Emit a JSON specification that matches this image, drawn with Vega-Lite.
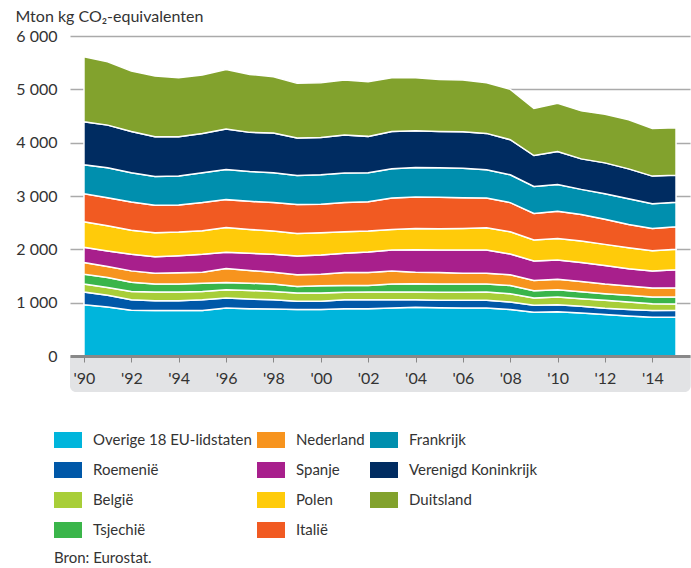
{
  "$schema": "https://vega.github.io/schema/vega-lite/v6.json",
  "width": 620,
  "height": 320,
  "autosize": {"type": "none"},
  "padding": {"left": 70, "top": 36, "right": 1, "bottom": 212},
  "background": "white",
  "config": {
    "font": "Lato",
    "view": {"stroke": null}
  },
  "datasets": {
    "landen": [
      {"land": "Overige 18 EU-lidstaten", "k": 1},
      {"land": "Roemenië", "k": 2},
      {"land": "België", "k": 3},
      {"land": "Tsjechië", "k": 4},
      {"land": "Nederland", "k": 5},
      {"land": "Spanje", "k": 6},
      {"land": "Polen", "k": 7},
      {"land": "Italië", "k": 8},
      {"land": "Frankrijk", "k": 9},
      {"land": "Verenigd Koninkrijk", "k": 10},
      {"land": "Duitsland", "k": 11}
    ],
    "emissies": [
      {"jaar": 1990, "Overige 18 EU-lidstaten": 963, "Roemenië": 236, "België": 149, "Tsjechië": 186, "Nederland": 218, "Spanje": 285, "Polen": 479, "Italië": 527, "Frankrijk": 541, "Verenigd Koninkrijk": 807, "Duitsland": 1218},
      {"jaar": 1991, "Overige 18 EU-lidstaten": 919, "Roemenië": 218, "België": 149, "Tsjechië": 186, "Nederland": 205, "Spanje": 292, "Polen": 472, "Italië": 528, "Frankrijk": 559, "Verenigd Koninkrijk": 801, "Duitsland": 1187},
      {"jaar": 1992, "Overige 18 EU-lidstaten": 857, "Roemenië": 199, "België": 155, "Tsjechië": 174, "Nederland": 211, "Spanje": 311, "Polen": 453, "Italië": 528, "Frankrijk": 547, "Verenigd Koninkrijk": 776, "Duitsland": 1131},
      {"jaar": 1993, "Overige 18 EU-lidstaten": 851, "Roemenië": 186, "België": 162, "Tsjechië": 149, "Nederland": 205, "Spanje": 310, "Polen": 448, "Italië": 515, "Frankrijk": 540, "Verenigd Koninkrijk": 746, "Duitsland": 1136},
      {"jaar": 1994, "Overige 18 EU-lidstaten": 851, "Roemenië": 186, "België": 162, "Tsjechië": 149, "Nederland": 211, "Spanje": 323, "Polen": 441, "Italië": 509, "Frankrijk": 541, "Verenigd Koninkrijk": 739, "Duitsland": 1105},
      {"jaar": 1995, "Overige 18 EU-lidstaten": 851, "Roemenië": 205, "België": 155, "Tsjechië": 155, "Nederland": 205, "Spanje": 336, "Polen": 441, "Italië": 528, "Frankrijk": 559, "Verenigd Koninkrijk": 739, "Duitsland": 1093},
      {"jaar": 1996, "Overige 18 EU-lidstaten": 901, "Roemenië": 186, "België": 155, "Tsjechië": 137, "Nederland": 261, "Spanje": 304, "Polen": 466, "Italië": 522, "Frankrijk": 565, "Verenigd Koninkrijk": 758, "Duitsland": 1118},
      {"jaar": 1997, "Overige 18 EU-lidstaten": 888, "Roemenië": 180, "België": 162, "Tsjechië": 136, "Nederland": 236, "Spanje": 323, "Polen": 448, "Italië": 528, "Frankrijk": 559, "Verenigd Koninkrijk": 733, "Duitsland": 1087},
      {"jaar": 1998, "Overige 18 EU-lidstaten": 882, "Roemenië": 174, "België": 155, "Tsjechië": 137, "Nederland": 223, "Spanje": 336, "Polen": 435, "Italië": 534, "Frankrijk": 559, "Verenigd Koninkrijk": 745, "Duitsland": 1056},
      {"jaar": 1999, "Overige 18 EU-lidstaten": 870, "Roemenië": 155, "België": 155, "Tsjechië": 124, "Nederland": 218, "Spanje": 354, "Polen": 422, "Italië": 541, "Frankrijk": 546, "Verenigd Koninkrijk": 702, "Duitsland": 1025},
      {"jaar": 2000, "Overige 18 EU-lidstaten": 870, "Roemenië": 155, "België": 155, "Tsjechië": 137, "Nederland": 217, "Spanje": 360, "Polen": 417, "Italië": 534, "Frankrijk": 553, "Verenigd Koninkrijk": 701, "Duitsland": 1025},
      {"jaar": 2001, "Overige 18 EU-lidstaten": 888, "Roemenië": 168, "België": 137, "Tsjechië": 130, "Nederland": 242, "Spanje": 360, "Polen": 404, "Italië": 547, "Frankrijk": 553, "Verenigd Koninkrijk": 714, "Duitsland": 1031},
      {"jaar": 2002, "Overige 18 EU-lidstaten": 888, "Roemenië": 168, "België": 143, "Tsjechië": 124, "Nederland": 242, "Spanje": 385, "Polen": 392, "Italië": 552, "Frankrijk": 541, "Verenigd Koninkrijk": 683, "Duitsland": 1025},
      {"jaar": 2003, "Overige 18 EU-lidstaten": 901, "Roemenië": 155, "België": 143, "Tsjechië": 150, "Nederland": 247, "Spanje": 392, "Polen": 385, "Italië": 590, "Frankrijk": 546, "Verenigd Koninkrijk": 702, "Duitsland": 1006},
      {"jaar": 2004, "Overige 18 EU-lidstaten": 913, "Roemenië": 143, "België": 143, "Tsjechië": 155, "Nederland": 217, "Spanje": 423, "Polen": 397, "Italië": 590, "Frankrijk": 553, "Verenigd Koninkrijk": 690, "Duitsland": 993},
      {"jaar": 2005, "Overige 18 EU-lidstaten": 907, "Roemenië": 136, "België": 150, "Tsjechië": 155, "Nederland": 217, "Spanje": 423, "Polen": 397, "Italië": 590, "Frankrijk": 553, "Verenigd Koninkrijk": 683, "Duitsland": 975},
      {"jaar": 2006, "Overige 18 EU-lidstaten": 901, "Roemenië": 142, "België": 150, "Tsjechië": 155, "Nederland": 205, "Spanje": 435, "Polen": 403, "Italië": 578, "Frankrijk": 553, "Verenigd Koninkrijk": 683, "Duitsland": 969},
      {"jaar": 2007, "Overige 18 EU-lidstaten": 901, "Roemenië": 142, "België": 156, "Tsjechië": 149, "Nederland": 205, "Spanje": 435, "Polen": 416, "Italië": 559, "Frankrijk": 528, "Verenigd Koninkrijk": 683, "Duitsland": 950},
      {"jaar": 2008, "Overige 18 EU-lidstaten": 870, "Roemenië": 142, "België": 156, "Tsjechië": 155, "Nederland": 199, "Spanje": 391, "Polen": 416, "Italië": 547, "Frankrijk": 522, "Verenigd Koninkrijk": 658, "Duitsland": 944},
      {"jaar": 2009, "Overige 18 EU-lidstaten": 820, "Roemenië": 130, "België": 137, "Tsjechië": 137, "Nederland": 192, "Spanje": 367, "Polen": 391, "Italië": 497, "Frankrijk": 509, "Verenigd Koninkrijk": 578, "Duitsland": 882},
      {"jaar": 2010, "Overige 18 EU-lidstaten": 832, "Roemenië": 131, "België": 143, "Tsjechië": 136, "Nederland": 199, "Spanje": 360, "Polen": 404, "Italië": 509, "Frankrijk": 503, "Verenigd Koninkrijk": 615, "Duitsland": 907},
      {"jaar": 2011, "Overige 18 EU-lidstaten": 807, "Roemenië": 125, "België": 143, "Tsjechië": 130, "Nederland": 193, "Spanje": 354, "Polen": 403, "Italië": 497, "Frankrijk": 472, "Verenigd Koninkrijk": 572, "Duitsland": 900},
      {"jaar": 2012, "Overige 18 EU-lidstaten": 776, "Roemenië": 118, "België": 149, "Tsjechië": 125, "Nederland": 180, "Spanje": 348, "Polen": 397, "Italië": 472, "Frankrijk": 478, "Verenigd Koninkrijk": 578, "Duitsland": 913},
      {"jaar": 2013, "Overige 18 EU-lidstaten": 752, "Roemenië": 118, "België": 142, "Tsjechië": 125, "Nederland": 174, "Spanje": 323, "Polen": 397, "Italië": 435, "Frankrijk": 484, "Verenigd Koninkrijk": 559, "Duitsland": 920},
      {"jaar": 2014, "Overige 18 EU-lidstaten": 727, "Roemenië": 124, "België": 130, "Tsjechië": 125, "Nederland": 167, "Spanje": 323, "Polen": 379, "Italië": 416, "Frankrijk": 466, "Verenigd Koninkrijk": 516, "Duitsland": 894},
      {"jaar": 2015, "Overige 18 EU-lidstaten": 727, "Roemenië": 130, "België": 118, "Tsjechië": 131, "Nederland": 174, "Spanje": 335, "Polen": 385, "Italië": 422, "Frankrijk": 460, "Verenigd Koninkrijk": 509, "Duitsland": 889}
    ]
  },
  "layer": [
    {
      "data": {"values": [{}]},
      "mark": {"type": "rect", "color": "#e2e3e5", "cornerRadiusBottomLeft": 6, "cornerRadiusBottomRight": 6},
      "encoding": {
        "x": {"datum": 1989.41, "type": "quantitative"},
        "x2": {"datum": 2015.62},
        "y": {"datum": 0, "type": "quantitative"},
        "y2": {"datum": -675}
      }
    },
    {
      "data": {"name": "emissies"},
      "transform": [
        {"fold": ["Overige 18 EU-lidstaten", "Roemenië", "België", "Tsjechië", "Nederland", "Spanje", "Polen", "Italië", "Frankrijk", "Verenigd Koninkrijk", "Duitsland"], "as": ["land", "waarde"]},
        {"lookup": "land", "from": {"data": {"name": "landen"}, "key": "land", "fields": ["k"]}}
      ],
      "mark": {"type": "area", "stroke": "white", "strokeWidth": 1.5, "interpolate": "linear"},
      "encoding": {
        "x": {
          "field": "jaar", "type": "quantitative",
          "scale": {"domain": [1989.41, 2015.59], "nice": false, "zero": false},
          "axis": {
            "values": [1990,1991,1992,1993,1994,1995,1996,1997,1998,1999,2000,2001,2002,2003,2004,2005,2006,2007,2008,2009,2010,2011,2012,2013,2014,2015],
            "labelExpr": "datum.value % 2 == 0 ? \"'\" + substring(toString(datum.value), 2) : ''",
            "title": null,
            "grid": false,
            "domainColor": "#888888",
            "domainWidth": 3,
            "tickColor": "#888888",
            "tickSize": 6,
            "tickWidth": 1,
            "labelPadding": 8,
            "labelFontSize": 16,
            "labelColor": "#333333",
            "labelFlush": false,
            "labelOverlap": false,
            "zindex": 1
          }
        },
        "y": {
          "field": "waarde", "type": "quantitative", "stack": "zero",
          "scale": {"domain": [0, 6000], "nice": false},
          "axis": {
            "values": [0, 1000, 2000, 3000, 4000, 5000, 6000],
            "labelExpr": "replace(format(datum.value, ','), ',', ' ')",
            "grid": true,
            "gridColor": "#aaaaaa",
            "gridWidth": 1.3,
            "domain": false,
            "ticks": false,
            "labelPadding": 13,
            "labelFontSize": 16,
            "labelColor": "#333333",
            "title": "Mton kg CO₂-equivalenten",
            "titleAngle": 0,
            "titleAlign": "left",
            "titleBaseline": "middle",
            "titleX": -55,
            "titleY": -20,
            "titleFontSize": 16,
            "titleFontWeight": "normal",
            "titleColor": "#333333"
          }
        },
        "color": {
          "field": "land", "type": "nominal",
          "scale": {
            "domain": ["Overige 18 EU-lidstaten", "Roemenië", "België", "Tsjechië", "Nederland", "Spanje", "Polen", "Italië", "Frankrijk", "Verenigd Koninkrijk", "Duitsland"],
            "range": ["#00b5dc", "#0058a8", "#a8ce38", "#3ab54a", "#f7941e", "#a81f8c", "#ffcb0a", "#f15a22", "#008fae", "#002c61", "#82a22d"]
          },
          "legend": {
            "orient": "none",
            "legendX": -16,
            "legendY": 390,
            "columns": 3,
            "padding": 0,
            "symbolType": "M-1,-0.57H1V0.57H-1Z",
            "symbolSize": 784,
            "symbolStrokeWidth": 0,
            "symbolOpacity": 1,
            "labelFontSize": 15,
            "labelColor": "#333333",
            "labelOffset": 11,
            "labelLimit": 300,
            "columnPadding": 5,
            "rowPadding": 8,
            "gridAlign": "each",
            "title": "Bron: Eurostat.",
            "titleOrient": "bottom",
            "titleAnchor": "start",
            "titleBaseline": "top",
            "titlePadding": 13,
            "titleFontSize": 15,
            "titleFontWeight": "normal",
            "titleColor": "#333333"
          }
        },
        "order": {"field": "k", "type": "quantitative", "sort": "ascending"}
      }
    }
  ]
}
